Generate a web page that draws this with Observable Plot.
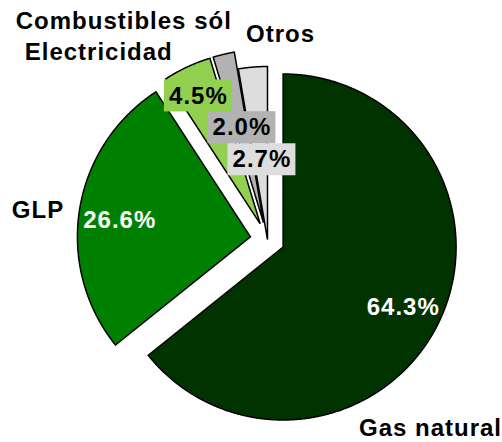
<!DOCTYPE html>
<html><head><meta charset="utf-8">
<script src="https://cdn.jsdelivr.net/npm/d3@7"></script>
<script src="https://cdn.jsdelivr.net/npm/@observablehq/plot@0.6"></script>
<style>
html,body{margin:0;padding:0;background:#fff;}
#chart svg{display:block;}
#chart svg text{letter-spacing:1px;}
</style>
</head><body><div id="chart"></div>
<script>
// ---- data ----
const categories = ["Gas natural", "GLP", "Electricidad", "Combustibles sólidos", "Otros"];
const nameLabels = ["Gas natural", "GLP", "Electricidad", "Combustibles sól", "Otros"];
const shares = [64.3, 26.6, 4.5, 2.0, 2.7];
const percentLabels = ["64.3%", "26.6%", "4.5%", "2.0%", "2.7%"];
const explodePct = [10, 10, 10, 10, 0];

// ---- style / layout ----
const colors = ["#003300", "#008000", "#92D050", "#B2B2B2", "#DDDDDD"];
const pctTextDark = [false, false, true, true, true];
const boxed = [false, false, true, true, true];
const W = 502, H = 442, CX = 267, CY = 239, R = 173;
const pctLabelR = [0.777, 0.761, 0.821, 0.563, 0.462];
const pctLabelDAng = [1.0, -2.1, -0.8, 0.5, 0.85];
const nameAngle = [139.2, 277.3, 317.9, 326.65, 3.63];
const nameR = [1.442, 1.3375, 1.455, 1.511, 1.186];
const FONT = "'Liberation Sans', Arial, sans-serif";
const FS = 24;
const boxW = 68 / R, boxH = 32 / R;
const deg = Math.PI / 180;

const arcs = d3.pie().sort(null).value(d => d)(shares);
const slicePts = [];
const pctRows = [];
const nameRows = [];
arcs.forEach((a, i) => {
  const a0 = a.startAngle, a1 = a.endAngle, mid = (a0 + a1) / 2;
  const e = explodePct[i] / 100;
  const ox = e * Math.sin(mid), oy = e * Math.cos(mid);
  const step = Math.PI / 720;
  const pt = (ang) => ({slice: categories[i], x: ox + Math.sin(ang), y: oy + Math.cos(ang)});
  // start mid-arc so the path seam sits on a smooth curve
  for (let t = mid; t < a1; t += step) slicePts.push(pt(t));
  slicePts.push(pt(a1));
  slicePts.push({slice: categories[i], x: ox, y: oy});
  for (let t = a0; t < mid; t += step) slicePts.push(pt(t));
  slicePts.push(pt(mid));
  const lr = pctLabelR[i], la = mid + pctLabelDAng[i] * deg;
  pctRows.push({slice: categories[i], label: percentLabels[i], dark: pctTextDark[i], boxed: boxed[i],
    x: ox + lr * Math.sin(la), y: oy + lr * Math.cos(la)});
  const na = nameAngle[i] * deg;
  nameRows.push({label: nameLabels[i], x: nameR[i] * Math.sin(na), y: nameR[i] * Math.cos(na)});
});
const boxes = pctRows.filter(d => d.boxed);

const chart = Plot.plot({
  width: W, height: H, margin: 0,
  style: {background: "#fff", overflow: "visible"},
  x: {domain: [-CX / R, (W - CX) / R], range: [0, W], axis: null},
  y: {domain: [-(H - CY) / R, CY / R], range: [H, 0], axis: null},
  color: {domain: categories, range: colors},
  marks: [
    Plot.line(slicePts, {x: "x", y: "y", z: "slice", fill: "slice", stroke: "#000",
      strokeWidth: 1.5, strokeLinejoin: "miter", strokeMiterlimit: 4, curve: "linear"}),
    Plot.rect(boxes, {x1: d => d.x - boxW / 2, x2: d => d.x + boxW / 2,
      y1: d => d.y - boxH / 2, y2: d => d.y + boxH / 2, fill: "slice"}),
    Plot.text(pctRows.filter(d => !d.dark), {x: "x", y: "y", text: "label", fill: "#fff",
      fontSize: FS, fontWeight: "bold", fontFamily: FONT}),
    Plot.text(pctRows.filter(d => d.dark), {x: "x", y: "y", text: "label", fill: "#000",
      fontSize: FS, fontWeight: "bold", fontFamily: FONT}),
    Plot.text(nameRows, {x: "x", y: "y", text: "label", fill: "#000",
      fontSize: FS, fontWeight: "bold", fontFamily: FONT})
  ]
});
document.getElementById("chart").appendChild(chart);
</script>
</body></html>
